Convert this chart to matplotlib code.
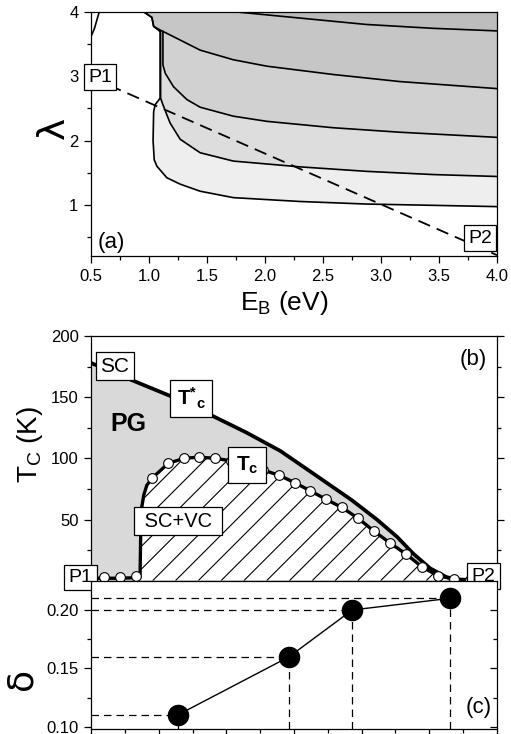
import numpy as np
import matplotlib
matplotlib.use('Agg')
import matplotlib.pyplot as plt
from matplotlib.ticker import MultipleLocator, FixedLocator, FormatStrFormatter
from matplotlib.collections import LineCollection
from matplotlib.patches import Polygon

plt.rcParams['font.family'] = ['Liberation Sans', 'DejaVu Sans']
plt.rcParams['mathtext.fontset'] = 'custom'
plt.rcParams['mathtext.rm'] = 'Liberation Sans'
plt.rcParams['mathtext.it'] = 'Liberation Sans:italic'
plt.rcParams['mathtext.bf'] = 'Liberation Sans:bold'
plt.rcParams['axes.linewidth'] = 0.9

# ---------------- panel (a) data: contour lines in (E_B, lambda) ----------------
c1_x = [0.96, 1.025, 1.04, 1.096, 1.096, 1.053, 1.04, 1.035, 1.045, 1.068, 1.154, 1.269, 1.441, 1.727, 2.301, 2.875, 3.449, 4.0]
c1_y = [4.0, 3.92, 3.78, 3.70, 2.66, 2.56, 2.45, 2.00, 1.70, 1.60, 1.42, 1.32, 1.21, 1.11, 1.05, 1.01, 0.99, 0.97]
c2_x = [1.10, 1.10, 1.12, 1.154, 1.183, 1.269, 1.441, 1.727, 2.301, 2.875, 3.449, 4.0]
c2_y = [3.70, 2.66, 2.56, 2.40, 2.27, 2.02, 1.81, 1.68, 1.59, 1.52, 1.47, 1.44]
c3_x = [1.12, 1.12, 1.14, 1.211, 1.326, 1.441, 1.727, 2.015, 2.588, 3.162, 4.0]
c3_y = [3.70, 3.18, 3.05, 2.84, 2.64, 2.52, 2.38, 2.30, 2.20, 2.13, 2.05]
c4_x = [0.96, 1.025, 1.04, 1.10, 1.211, 1.441, 1.727, 2.015, 2.588, 3.162, 4.0]
c4_y = [4.0, 3.92, 3.78, 3.72, 3.62, 3.41, 3.26, 3.16, 3.03, 2.92, 2.81]
c5_x = [1.785, 2.301, 2.875, 3.449, 4.0]
c5_y = [4.0, 3.91, 3.81, 3.75, 3.71]
edge_x = [0.50, 0.53, 0.57]
edge_y = [3.62, 3.75, 4.00]
path_x = [0.5, 4.0]
path_y = [2.986, 0.213]

# ---------------- panel (b) data: temperatures along P1 -> P2 ----------------
tstar_x = [0.0, 1.2, 2.43, 3.57, 4.6, 5.6, 6.6, 7.7, 8.45, 9.04, 9.53, 10.03, 10.5, 10.95]
tstar_T = [178, 164, 150, 135, 121, 106, 87, 66, 50, 36, 22, 10, 3, 0]
tc_x = [0.39, 0.86, 1.33, 1.81, 2.29, 2.75, 3.20, 3.67, 4.13, 4.58, 5.09, 5.57, 6.03, 6.47,
        6.95, 7.41, 7.90, 8.35, 8.83, 9.32, 9.78, 10.25, 10.72, 11.19]
tc_T = [2.7, 2.7, 3.8, 84, 96, 100, 101, 100, 98, 95, 90.5, 86, 80, 73.6,
        66.5, 59.9, 50.9, 40.8, 31.0, 21.5, 11.4, 4.1, 1.4, 0.8]
tcl_x = [0.0, 0.39, 0.86, 1.33, 1.45, 1.47, 1.50, 1.56, 1.65, 1.81, 2.29, 2.75, 3.20, 3.67, 4.13,
         4.58, 5.09, 5.57, 6.03, 6.47, 6.95, 7.41, 7.90, 8.35, 8.83, 9.32, 9.78, 10.25, 10.72, 11.19, 11.7]
tcl_T = [2.0, 2.0, 2.0, 2.5, 3.0, 40, 60, 70, 78, 84, 96, 100, 101, 100, 98,
         95, 90.5, 86, 80, 73.6, 66.5, 59.9, 50.9, 40.8, 31.0, 21.5, 11.4, 4.1, 1.4, 0.8, 0.5]

# ---------------- panel (c) data: doping ----------------
dop_x = [2.56, 5.86, 7.72, 10.61]
dop_d = [0.11, 0.16, 0.20, 0.21]

W, H = 511, 734
fig = plt.figure(figsize=(W / 100, H / 100), dpi=100)
axa = fig.add_axes([91 / W, 1 - 256 / H, 406 / W, (256 - 12.3) / H])
axb = fig.add_axes([91 / W, 1 - 580.7 / H, 406 / W, 244.7 / H])
axc = fig.add_axes([91 / W, 1 - 728.7 / H, 406 / W, 148 / H])

box = dict(boxstyle='square,pad=0.22', fc='white', ec='black', lw=0.9)

# ---------------- panel (a) ----------------
curves = [(c1_x, c1_y), (c2_x, c2_y), (c3_x, c3_y), (c4_x, c4_y), (c5_x, c5_y)]
shades = ['#eeeeee', '#dddddd', '#d1d1d1', '#c6c6c6', '#bdbdbd']
for (cx, cy), col in zip(curves, shades):
    px = np.concatenate([[cx[0]], cx, [4.0]])
    py = np.concatenate([[4.0], cy, [4.0]])
    axa.fill(px, py, color=col, lw=0, zorder=1)
for cx, cy in curves:
    axa.plot(cx, cy, color='black', lw=1.2, zorder=3)
axa.plot(edge_x, edge_y, color='black', lw=1.2, zorder=3)
axa.plot(path_x, path_y, color='black', lw=1.3, ls=(0, (7, 4)), zorder=4)
axa.set_xlim(0.5, 4.0)
axa.set_ylim(0.2, 4.0)
axa.xaxis.set_major_locator(MultipleLocator(0.5))
axa.xaxis.set_minor_locator(MultipleLocator(0.25))
axa.xaxis.set_major_formatter(FormatStrFormatter('%.1f'))
axa.yaxis.set_major_locator(MultipleLocator(1))
axa.yaxis.set_minor_locator(MultipleLocator(0.5))
axa.tick_params(which='both', direction='out', top=False, right=False, labelsize=12, pad=4)
axa.tick_params(which='major', length=5, width=0.9)
axa.tick_params(which='minor', length=3, width=0.9)
axa.text(0.58, 2.99, 'P1', fontsize=14, ha='center', va='center', bbox=box, zorder=6)
axa.text(3.855, 0.477, 'P2', fontsize=14, ha='center', va='center', bbox=box, zorder=6)
axa.text(0.05, 0.057, '(a)', fontsize=16, ha='center', va='center', transform=axa.transAxes)
axa.text(-0.092, 0.525, 'λ', fontsize=27, rotation=90, ha='center', va='center',
         family=['DejaVu Sans'], transform=axa.transAxes)
axa.text(0.475, -0.222, r'E$_\mathrm{B}$ (eV)', fontsize=19, ha='center', va='baseline',
         transform=axa.transAxes)

# ---------------- panel (b) ----------------
axb.fill_between(tstar_x, 0, tstar_T, color='#d9d9d9', lw=0, zorder=1)
hx = np.asarray(tcl_x[4:])
hT = np.asarray(tcl_T[4:])
poly = Polygon(np.column_stack([np.r_[hx, hx[-1], hx[0]], np.r_[hT, 0, 0]]), closed=True,
               fc='white', ec='none', zorder=2, transform=axb.transData)
axb.add_patch(poly)
aw, ah = 406.0, 244.7
sp = 22.8 / aw
x0s = 0.601 + sp * np.arange(-40, 40)
segs = [[(x0, 0), (x0 + ah / aw, 1)] for x0 in x0s]
lc = LineCollection(segs, colors='black', linewidths=0.8, transform=axb.transAxes, zorder=2.5)
lc.set_clip_path(poly)
axb.add_collection(lc, autolim=False)
axb.plot(tstar_x, tstar_T, color='black', lw=2.7, zorder=4, solid_capstyle='butt')
axb.plot(tcl_x, tcl_T, color='black', lw=2.4, zorder=4)
axb.plot(tc_x, tc_T, 'o', ms=7, mfc='white', mec='black', mew=0.8, zorder=5, clip_on=False)
axb.set_xlim(0, 12)
axb.set_ylim(0, 200)
axb.yaxis.set_major_locator(FixedLocator([50, 100, 150, 200]))
axb.yaxis.set_minor_locator(FixedLocator([25, 75, 125, 175]))
axb.tick_params(axis='x', which='both', bottom=False, top=False, labelbottom=False)
axb.tick_params(axis='y', which='both', direction='out', left=True, right=True, labelsize=12, pad=4)
axb.tick_params(axis='y', which='major', length=5, width=0.9)
axb.tick_params(axis='y', which='minor', length=3, width=0.9)
axb.text(0.71, 175.2, 'SC', fontsize=15, ha='center', va='center', bbox=box, zorder=6)
axb.text(2.96, 149, r'$\mathbf{T}^{\mathbf{*}}{}_{\mathbf{c}}$', fontsize=15, ha='center', va='center',
         bbox=dict(boxstyle='square,pad=0.3', fc='white', ec='black', lw=0.9), zorder=6)
axb.text(4.61, 94.4, r'$\mathbf{T}_{\mathbf{c}}$', fontsize=15, ha='center', va='center',
         bbox=dict(boxstyle='square,pad=0.35', fc='white', ec='black', lw=0.9), zorder=6)
axb.text(2.57, 48.7, ' SC+VC ', fontsize=14.5, ha='center', va='center', bbox=box, zorder=6)
axb.text(-0.31, 2.6, 'P1', fontsize=14, ha='center', va='center', bbox=box, zorder=6)
axb.text(11.6, 3.8, 'P2', fontsize=14, ha='center', va='center', bbox=box, zorder=6)
axb.text(1.09, 127.9, 'PG', fontsize=18, fontweight='bold', ha='center', va='center', zorder=6)
axb.text(0.941, 0.902, '(b)', fontsize=16, ha='center', va='center', transform=axb.transAxes)
axb.text(-0.150, 0.557, r'T$_\mathrm{C}$ (K)', fontsize=20, rotation=90, ha='center', va='center',
         transform=axb.transAxes)

# ---------------- panel (c) ----------------
ybot = 0.0983
axc.hlines(dop_d, 0, dop_x, colors='black', linestyles=(0, (6, 4)), lw=0.9, zorder=2)
axc.vlines(dop_x, ybot, dop_d, colors='black', linestyles=(0, (6, 4)), lw=0.9, zorder=2)
axc.plot(dop_x, dop_d, color='black', lw=1.0, zorder=3)
axc.plot(dop_x, dop_d, 'o', ms=14.5, color='black', zorder=4)
axc.set_xlim(0, 12)
axc.set_ylim(ybot, 0.2251)
axc.xaxis.set_major_locator(MultipleLocator(2))
axc.xaxis.set_minor_locator(MultipleLocator(1))
axc.yaxis.set_major_locator(FixedLocator([0.10, 0.15, 0.20]))
axc.yaxis.set_minor_locator(FixedLocator([0.125, 0.175]))
axc.yaxis.set_major_formatter(FormatStrFormatter('%.2f'))
axc.tick_params(which='both', direction='out', top=False, right=False, labelbottom=False,
                labelsize=12, pad=4)
axc.tick_params(which='major', length=5, width=0.9)
axc.tick_params(which='minor', length=3, width=0.9)
sec = axc.secondary_yaxis('right')
sec.yaxis.set_major_locator(FixedLocator([0.10, 0.15, 0.20]))
sec.yaxis.set_minor_locator(FixedLocator([0.125, 0.175]))
sec.tick_params(which='both', direction='in', labelright=False, width=0.9)
sec.tick_params(which='major', length=5)
sec.tick_params(which='minor', length=3)
sec.spines['right'].set_visible(False)
axc.text(0.954, 0.143, '(c)', fontsize=16, ha='center', va='center', transform=axc.transAxes)
axc.text(-0.172, 0.336, 'δ', fontsize=26, rotation=90, ha='center', va='center',
         family=['DejaVu Sans'], transform=axc.transAxes)

fig.savefig('out.png', dpi=100)
